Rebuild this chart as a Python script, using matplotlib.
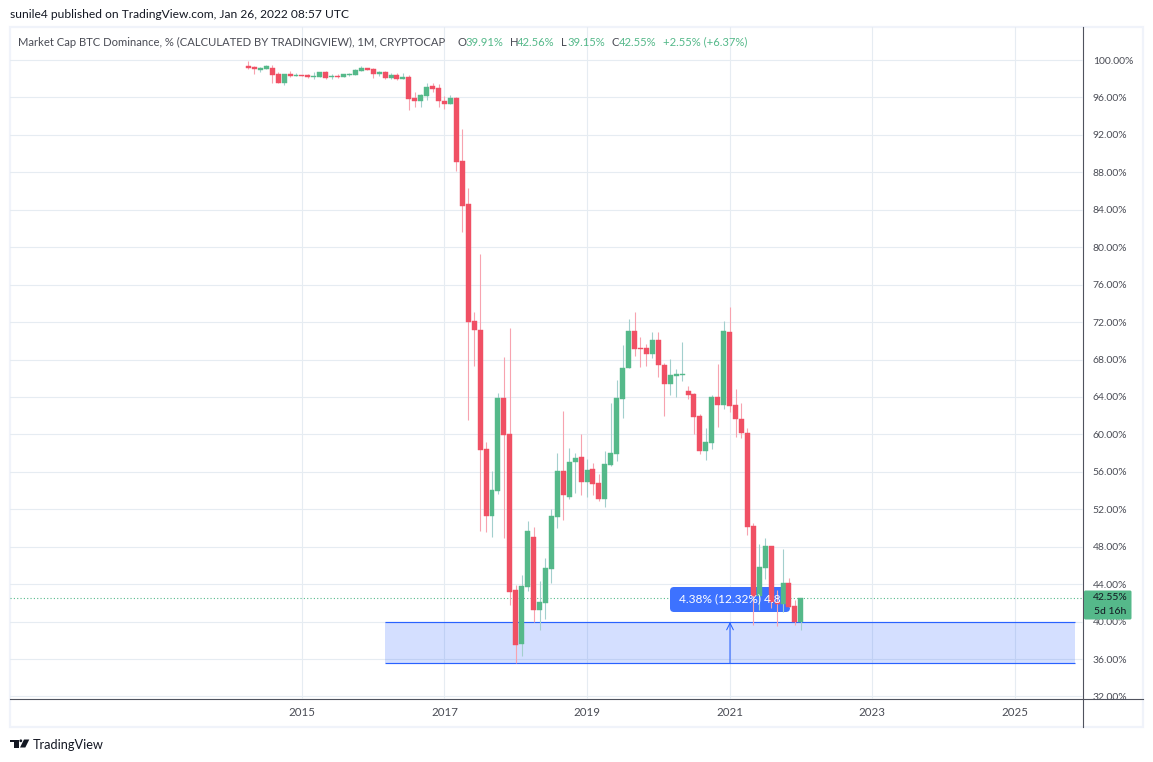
import matplotlib
matplotlib.use('Agg')
import matplotlib.pyplot as plt
from matplotlib.patches import Rectangle, FancyBboxPatch, Circle, Polygon
from matplotlib.transforms import Bbox, TransformedBbox
import numpy as np

# Monthly candles, Apr 2014 .. Jan 2022
opens = [99.36, 99.25, 98.93, 99.04, 99.14, 98.50, 97.54, 98.50, 98.29, 98.43,
         98.40, 98.18, 98.18, 98.72, 98.18, 98.29, 98.18, 98.40, 98.40, 98.82,
         99.14, 99.04, 98.50, 98.72, 98.08, 98.40, 97.97, 98.18, 95.94, 95.62,
         96.15, 97.22, 97.01, 95.62, 95.30, 95.94, 89.21, 84.62, 72.12, 71.15,
         58.44, 51.28, 53.95, 63.89, 60.04, 43.37, 37.61, 43.69, 49.04, 41.24,
         41.99, 45.62, 51.17, 56.09, 53.31, 57.05, 57.58, 54.91, 56.30, 54.81,
         53.10, 56.73, 57.91, 63.78, 67.09, 71.05, 69.23, 69.23, 68.59, 70.09,
         67.42, 65.39, 66.24, 66.35, 64.64, 64.32, 61.97, 58.23, 59.08, 64.00,
         63.14, 70.94, 63.14, 61.65, 60.15, 50.21, 42.74, 45.73, 48.08, 42.10,
         41.88, 44.13, 41.67, 39.91]
highs = [99.89, 99.36, 99.25, 99.47, 99.47, 98.72, 98.50, 98.82, 98.61, 98.43,
         98.50, 98.72, 98.72, 98.82, 98.50, 98.50, 98.50, 98.61, 99.04, 99.36,
         99.14, 99.14, 98.82, 98.82, 98.61, 98.61, 98.61, 98.40, 96.58, 96.37,
         97.54, 97.54, 97.44, 96.15, 96.26, 96.05, 92.63, 86.32, 73.08, 79.27,
         59.19, 56.09, 64.42, 68.27, 71.37, 43.91, 44.98, 50.75, 50.11, 44.34,
         46.79, 52.03, 58.01, 62.50, 58.55, 58.01, 60.04, 57.37, 56.94, 55.77,
         58.22, 63.36, 65.81, 69.55, 72.33, 73.08, 70.41, 69.66, 70.94, 70.94,
         67.63, 68.06, 66.99, 69.87, 65.17, 64.42, 62.18, 60.68, 64.21, 67.52,
         72.12, 73.61, 64.85, 63.36, 60.68, 50.54, 48.29, 48.94, 48.08, 43.38,
         47.76, 44.66, 42.31, 42.56]
lows = [99.07, 98.50, 98.72, 99.04, 97.54, 97.54, 97.33, 98.18, 98.29, 98.29,
        98.08, 97.97, 98.18, 97.97, 97.97, 98.08, 98.18, 98.29, 98.40, 98.82,
        98.93, 98.08, 98.29, 97.97, 97.97, 97.86, 97.97, 94.66, 94.98, 94.98,
        95.73, 96.58, 94.98, 94.77, 95.30, 88.14, 81.62, 61.54, 67.31, 49.71,
        49.57, 49.04, 53.63, 48.97, 41.77, 35.54, 36.32, 43.27, 39.96, 39.10,
        40.28, 44.12, 50.00, 50.85, 53.10, 53.74, 53.52, 53.31, 53.52, 52.88,
        52.24, 56.62, 57.16, 61.75, 67.09, 68.38, 67.20, 67.31, 68.16, 66.13,
        61.97, 64.21, 64.00, 65.71, 63.78, 60.04, 57.91, 57.27, 58.44, 60.79,
        62.71, 62.39, 59.72, 59.62, 49.25, 39.64, 41.24, 44.56, 41.50, 39.53,
        41.03, 41.56, 39.64, 39.15]
closes = [99.18, 99.07, 99.14, 99.36, 98.40, 97.54, 98.50, 98.29, 98.40, 98.29,
          98.18, 98.29, 98.72, 98.08, 98.29, 98.18, 98.50, 98.50, 98.93, 99.14,
          98.93, 98.50, 98.72, 98.08, 98.40, 97.97, 98.18, 95.83, 95.62, 96.26,
          97.12, 96.90, 95.62, 95.30, 95.94, 89.10, 84.40, 72.01, 71.15, 58.33,
          51.28, 54.06, 63.89, 59.94, 43.16, 37.50, 43.80, 49.68, 41.24, 42.09,
          45.72, 51.28, 56.09, 53.52, 57.05, 57.48, 54.91, 56.19, 54.70, 53.10,
          56.84, 58.01, 63.89, 67.09, 71.05, 69.13, 69.13, 68.59, 70.09, 67.42,
          65.39, 66.35, 66.45, 66.45, 64.21, 61.86, 58.23, 59.19, 64.00, 63.14,
          71.05, 63.04, 61.65, 60.15, 50.11, 42.74, 45.84, 48.08, 42.10, 41.88,
          44.13, 41.56, 39.96, 42.55]

price_ticks = [32, 36, 40, 44, 48, 52, 56, 60, 64, 68, 72, 76, 80, 84, 88, 92, 96, 100]
year_labels = ['2015', '2017', '2019', '2021', '2023', '2025']
year_months = [9, 33, 57, 81, 105, 129]  # month number since Apr 2014

last_price = 42.55
zone_top = 39.96
zone_bottom = 35.58
zone_start = 23
zone_end = 139.1
arrow_month = 81.07

RED = '#F05064'
GREEN = '#55B98A'
RED_WICK = '#F7A3AF'
GREEN_WICK = '#A3CFCD'
BLUE = '#2962FF'
GRID = '#E6ECF2'
AXIS_LINE = '#50535E'
TEXT = '#4A4C55'
FONT = 'Lato'

W, H = 1153, 762
plt.rcParams['font.family'] = [FONT, 'DejaVu Sans']
fig = plt.figure(figsize=(W / 100, H / 100), dpi=100, facecolor='white')

# overlay in pixel coordinates for the frame and the header texts
over = fig.add_axes([0, 0, 1, 1], zorder=0)
over.set_xlim(0, W)
over.set_ylim(H, 0)
over.axis('off')

# main chart area, x 10..1083 and y 27..699 in pixels
ax = fig.add_axes([10 / W, 1 - 699 / H, 1073 / W, 672 / H], zorder=1)
ax.patch.set_alpha(0)
for s in ax.spines.values():
    s.set_visible(False)
ax.set_xlim(-40.15, 140.5)
ax.set_ylim(31.73, 103.53)
ax.set_axisbelow(True)
ax.grid(True, color=GRID, lw=0.8)
ax.yaxis.tick_right()
ax.set_yticks(price_ticks)
ax.set_yticklabels([f'{t:.2f}%' for t in price_ticks])
ax.set_xticks(year_months)
ax.set_xticklabels(year_labels)
ax.tick_params(axis='y', length=0, pad=7, labelsize=7.5, labelcolor=TEXT)
ax.tick_params(axis='x', length=0, pad=6, labelsize=8.3, labelcolor=TEXT)

# the lowest price label is cut by the time axis line
fig.canvas.draw()
clip = TransformedBbox(Bbox([[0, 0], [1.1, 1]]), ax.transAxes)
for lab in ax.get_yticklabels():
    lab.set_clip_box(clip)
    lab.set_clip_on(True)

# frame and axis lines
over.add_patch(Rectangle((10, 27), 1133, 700, fill=False, ec='#F0F3FA', lw=1.6))
over.plot([1083, 1083], [27, 727], color=AXIS_LINE, lw=0.8)
over.plot([10, 1143], [699, 699], color=AXIS_LINE, lw=0.8)

# price range zone
ax.add_patch(Rectangle((zone_start, zone_bottom), zone_end - zone_start, zone_top - zone_bottom,
                       fc=BLUE, alpha=0.2, lw=0, zorder=1))
ax.hlines([zone_top, zone_bottom], zone_start, zone_end, color=BLUE, lw=0.85, zorder=1.2)
ax.annotate('', xy=(arrow_month, zone_top), xytext=(arrow_month, zone_bottom),
            arrowprops=dict(arrowstyle='->', color=BLUE, lw=0.75, mutation_scale=12,
                            shrinkA=0, shrinkB=0), zorder=1.3)

# last price dotted line
ax.axhline(last_price, color=GREEN, lw=0.8, ls=(0, (1, 2)), zorder=1.5)

# blue measure label sits under the candles
ax.add_patch(FancyBboxPatch((670, 587), 120, 25, boxstyle='round,pad=0,rounding_size=4',
                            fc='#3D72FF', lw=0, transform=over.transData,
                            clip_on=False, zorder=2))

# candles
x = np.arange(len(opens))
o = np.array(opens)
c = np.array(closes)
up = c >= o
wick_cols = [GREEN_WICK if u else RED_WICK for u in up]
body_cols = [GREEN if u else RED for u in up]
ax.vlines(x, lows, highs, colors=wick_cols, lw=0.8, zorder=3)
ax.bar(x, np.abs(c - o), bottom=np.minimum(o, c), width=0.84, color=body_cols,
       edgecolor=body_cols, lw=0.3, zorder=4)

ax.text(730, 599, '4.38% (12.32%) 4.8', color='white', fontsize=8.6, ha='center', va='center',
        transform=over.transData, zorder=5)

# last price box on the price axis
ax.add_patch(FancyBboxPatch((1084, 590.5), 47.5, 29, boxstyle='round,pad=0,rounding_size=1.5',
                            fc=GREEN, lw=0, transform=over.transData,
                            clip_on=False, zorder=10))
ax.text(1110, 598, f'{last_price:.2f}%', color='#131722', fontsize=7.5, ha='center', va='center',
        transform=over.transData, clip_on=False, zorder=11)
ax.text(1110, 611, '5d 16h', color='#131722', fontsize=7.5, ha='center', va='center',
        transform=over.transData, clip_on=False, zorder=11)

# header, the legend goes over the grid lines
over.text(10, 14.5, 'sunile4 published on TradingView.com, Jan 26, 2022 08:57 UTC',
          color='#131722', fontsize=8.64, va='center')
ax.text(18, 42, 'Market Cap BTC Dominance, % (CALCULATED BY TRADINGVIEW), 1M, CRYPTOCAP',
        color=TEXT, fontsize=8.1, va='center', transform=over.transData, zorder=6)
for tx, t, col in [(457, 'O', TEXT), (466, '39.91%', GREEN), (510, 'H', TEXT), (517, '42.56%', GREEN),
                   (561, 'L', TEXT), (568, '39.15%', GREEN), (611, 'C', TEXT), (619, '42.55%', GREEN),
                   (663, '+2.55% (+6.37%)', GREEN)]:
    ax.text(tx, 42, t, color=col, fontsize=8.1, va='center', transform=over.transData, zorder=6)

# logo and brand name
over.add_patch(Rectangle((10, 739.5), 8.5, 2.8, fc='#131722', lw=0))
over.add_patch(Rectangle((14, 739.5), 4.5, 8, fc='#131722', lw=0))
over.add_patch(Circle((20.8, 740.8), 1.4, fc='#131722', lw=0))
over.add_patch(Polygon([(24, 739.5), (29.3, 739.5), (25.3, 747.5), (20, 747.5)], fc='#131722', lw=0))
over.text(33, 745, 'TradingView', color='#131722', fontsize=9.2, va='center')

fig.savefig('out.png', dpi=100)
